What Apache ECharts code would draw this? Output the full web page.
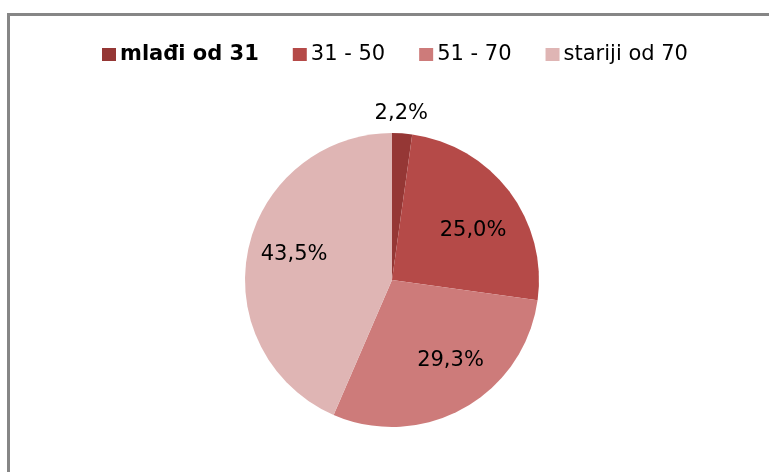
<!DOCTYPE html>
<html>
<head>
<meta charset="utf-8">
<script src="https://cdn.jsdelivr.net/npm/echarts@6/dist/echarts.min.js"></script>
<style>
    html, body { margin: 0; padding: 0; background: #fff; }
    #frame {
        position: absolute; left: 7px; top: 13px; width: 800px; height: 500px;
        border-left: 3px solid #868686; border-top: 3px solid #868686;
    }
    #chart { position: absolute; left: 0; top: 0; width: 769px; height: 472px; }
</style>
</head>
<body>
<div id="frame"></div>
<div id="chart"></div>
<script>
    // podaci
    var categories = ['mlađi od 31', '31 - 50', '51 - 70', 'stariji od 70']
    var shares = [2.2, 25.0, 29.3, 43.5]

    var colors = ['#953735', '#B54A48', '#CD7B7A', '#DFB5B4']
    // pomak natpisa u odnosu na sredinu kriške (kao u Excelu)
    var labelOffsets = [[4, -90], [20, -3], [21, 14], [-23, -10]]

    var chart = echarts.init(document.getElementById('chart'))
    chart.setOption({
        animation: false,
        color: colors,
        legend: {
            top: 44,
            left: 102,
            padding: 0,
            itemWidth: 14,
            itemHeight: 13,
            itemGap: 34,
            icon: 'rect',
            textStyle: {
                fontFamily: 'DejaVu Sans',
                fontSize: 21,
                color: '#000',
                padding: [0, 0, 0, -1]
            },
            data: categories.map(function (name, i) {
                return i === 0 ? { name: name, textStyle: { fontWeight: 'bold' } } : name
            })
        },
        series: [
            {
                type: 'pie',
                center: [392, 280],
                radius: 147,
                startAngle: 90,
                clockwise: true,
                label: {
                    position: 'inside',
                    fontFamily: 'DejaVu Sans',
                    fontSize: 21,
                    color: '#000',
                    formatter: function (p) {
                        return p.value.toFixed(1).replace('.', ',') + '%'
                    }
                },
                labelLine: { show: false },
                emphasis: { disabled: true },
                data: categories.map(function (name, i) {
                    return {
                        name: name,
                        value: shares[i],
                        label: { offset: labelOffsets[i] }
                    }
                })
            }
        ]
    })
</script>
</body>
</html>
